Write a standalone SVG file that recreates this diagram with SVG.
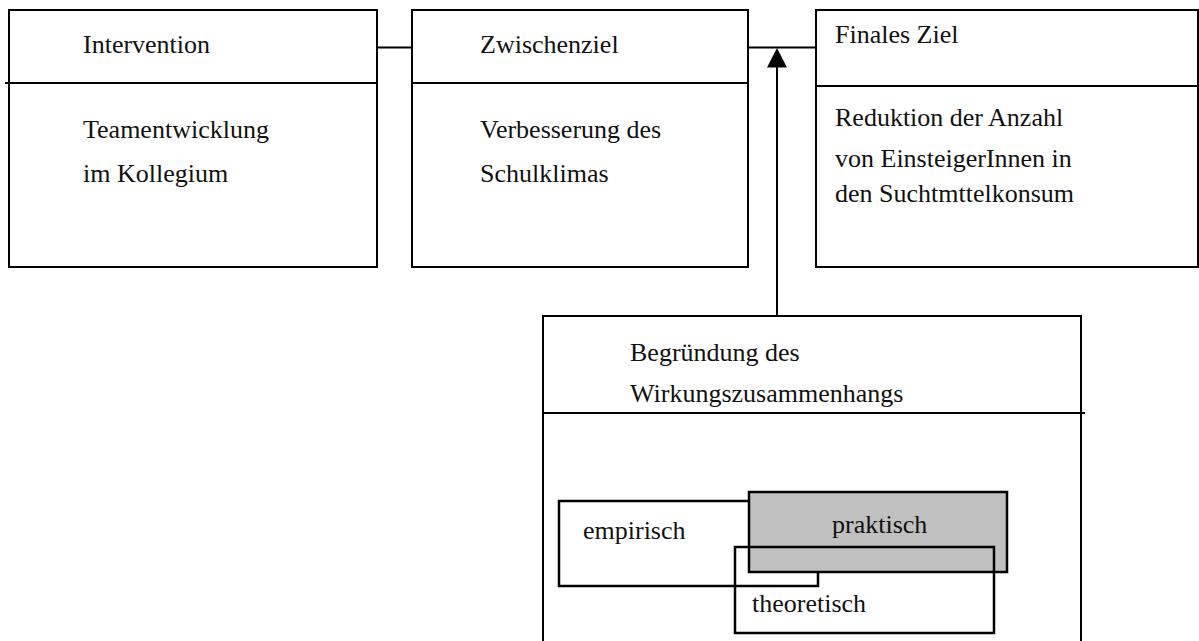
<svg xmlns="http://www.w3.org/2000/svg" width="1199" height="641" viewBox="0 0 1199 641" font-family="'Liberation Serif', 'Times New Roman', serif">
  <style>
    .box { fill: #ffffff; stroke: #000000; stroke-width: 2; }
    .rule { stroke: #000000; stroke-width: 2; fill: none; }
    .edge { stroke: #000000; stroke-width: 2; fill: none; }
    .open { fill: none; stroke: #000000; stroke-width: 2.5; }
    .plain { fill: #ffffff; stroke: #000000; stroke-width: 2.5; }
    .shade { fill: #c0c0c0; stroke: #000000; stroke-width: 2.5; }
    text { font-family: 'Liberation Serif', 'Times New Roman', serif; font-size: 26px; fill: #111111; }
  </style>
  <rect width="1199" height="641" fill="#ffffff"/>

  <!-- connectors -->
  <g id="connectors">
    <line class="edge" x1="377" y1="47.5" x2="412" y2="47.5"/>
    <line class="edge" x1="748" y1="47.5" x2="816" y2="47.5"/>
    <line class="edge" x1="777" y1="316" x2="777" y2="66"/>
    <path d="M777,48 L767,67.5 L787,67.5 Z" fill="#000000"/>
  </g>

  <!-- Intervention -->
  <g id="intervention">
    <rect class="box" x="9" y="10" width="368" height="257"/>
    <line class="rule" x1="5" y1="83" x2="376" y2="83"/>
    <text x="83" y="53">Intervention</text>
    <text x="83" y="138">Teamentwicklung</text>
    <text x="83" y="182">im Kollegium</text>
  </g>

  <!-- Zwischenziel -->
  <g id="zwischenziel">
    <rect class="box" x="412" y="10" width="336" height="257"/>
    <line class="rule" x1="412" y1="83" x2="748" y2="83"/>
    <text x="480" y="53">Zwischenziel</text>
    <text x="480" y="138">Verbesserung des</text>
    <text x="480" y="182">Schulklimas</text>
  </g>

  <!-- Finales Ziel -->
  <g id="finales-ziel">
    <rect class="box" x="816" y="10" width="382" height="257"/>
    <line class="rule" x1="816" y1="86" x2="1199" y2="86"/>
    <text x="835" y="43">Finales Ziel</text>
    <text x="835" y="126">Reduktion der Anzahl</text>
    <text x="835" y="167">von EinsteigerInnen in</text>
    <text x="835" y="202">den Suchtmttelkonsum</text>
  </g>

  <!-- Begründung des Wirkungszusammenhangs -->
  <g id="begruendung">
    <rect class="box" x="543" y="316" width="538" height="360"/>
    <line class="rule" x1="543" y1="413" x2="1085" y2="413"/>
    <text x="630" y="361">Begründung des</text>
    <text x="630" y="402">Wirkungszusammenhangs</text>
  </g>

  <!-- overlapping kinds of justification -->
  <g id="empirisch">
    <rect class="plain" x="559" y="501" width="259" height="85"/>
    <text x="583" y="539">empirisch</text>
  </g>
  <g id="praktisch">
    <rect class="shade" x="749" y="492" width="258" height="80"/>
    <text x="832" y="533">praktisch</text>
  </g>
  <g id="theoretisch">
    <rect class="open" x="735" y="547" width="259" height="86"/>
    <text x="752" y="612">theoretisch</text>
  </g>
</svg>
